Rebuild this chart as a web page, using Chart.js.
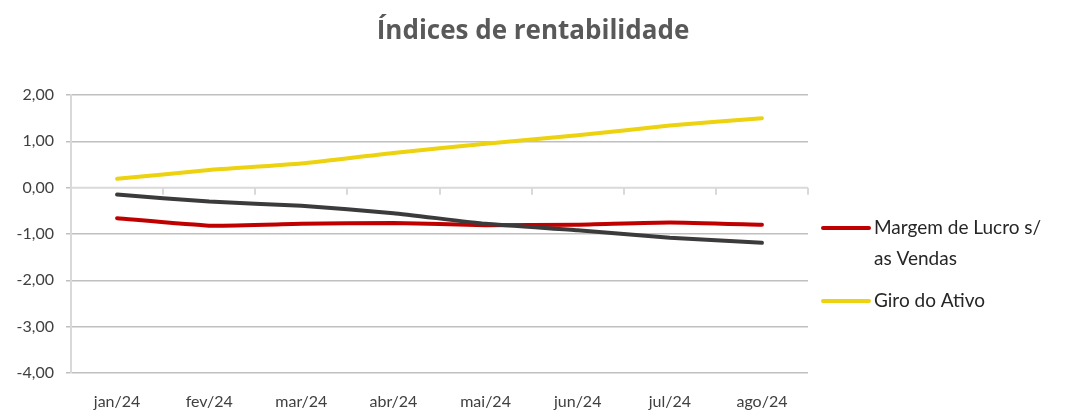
<!DOCTYPE html>
<html><head><meta charset="utf-8">
<script src="https://cdn.jsdelivr.net/npm/chart.js@4"></script>
<style>html,body{margin:0;padding:0;background:#fff}#wrap{width:1070px;height:411px;position:relative}</style>
</head><body><div id="wrap"><canvas id="c" width="1070" height="411"></canvas></div>
<script>
const title = "Índices de rentabilidade";
const categories = ["jan/24","fev/24","mar/24","abr/24","mai/24","jun/24","jul/24","ago/24"];
const margemLucro = [-0.66,-0.82,-0.78,-0.76,-0.81,-0.80,-0.75,-0.80];
const giroAtivo   = [0.19,0.38,0.52,0.75,0.95,1.13,1.34,1.50];
const terceiraSerie = [-0.15,-0.30,-0.39,-0.55,-0.78,-0.92,-1.08,-1.19];
const seriesNames = ["Margem de Lucro s/ as Vendas","Giro do Ativo","Rentabilidade do Ativo"];
const legendLines = [["Margem de Lucro s/","as Vendas"],["Giro do Ativo"]];
const yTicks = [-4,-3,-2,-1,0,1,2];

const FONT = "Lato, 'Open Sans', sans-serif";
const RED = "#c00000", YEL = "#ecd20f", DARK = "#3b3b3b";

const decor = {
  id: 'decor',
  beforeDatasetsDraw(chart){
    const {ctx, scales:{x,y}, chartArea:a} = chart;
    const y0 = y.getPixelForValue(0);
    const half = (x.getPixelForValue(1) - x.getPixelForValue(0))/2;
    ctx.save();
    ctx.strokeStyle = "#d9d9d9"; ctx.lineWidth = 2;
    ctx.beginPath(); ctx.moveTo(a.left, y0); ctx.lineTo(a.right, y0); ctx.stroke();
    ctx.lineWidth = 2;
    for (let i = 1; i <= categories.length; i++){
      const px = Math.round(x.getPixelForValue(i) - half);
      ctx.beginPath(); ctx.moveTo(px, y0); ctx.lineTo(px, y0 + 7); ctx.stroke();
    }
    ctx.restore();
  },
  afterDraw(chart){
    const {ctx, chartArea:a} = chart;
    ctx.save();
    ctx.fillStyle = "#595959";
    ctx.font = "bold 26px 'Open Sans', sans-serif";
    ctx.textAlign = "center"; ctx.textBaseline = "middle";
    ctx.fillText(title, 533, 32);
    const cols = [RED, YEL];
    const ys = [228, 301];
    ctx.font = "19px " + FONT;
    ctx.textAlign = "left";
    legendLines.forEach((lines, i) => {
      ctx.strokeStyle = cols[i]; ctx.lineWidth = 4; ctx.lineCap = "round";
      ctx.beginPath(); ctx.moveTo(a.right + 15, ys[i]); ctx.lineTo(a.right + 61, ys[i]); ctx.stroke();
      ctx.fillStyle = "#262626";
      lines.forEach((t, j) => ctx.fillText(t, a.right + 66, ys[i] + j * 31));
    });
    ctx.restore();
  }
};

new Chart(document.getElementById('c'), {
  type: 'line',
  data: {
    labels: categories,
    datasets: [
      {label: seriesNames[0], data: margemLucro, borderColor: RED, order: 1},
      {label: seriesNames[1], data: giroAtivo, borderColor: YEL, order: 2},
      {label: seriesNames[2], data: terceiraSerie, borderColor: DARK, order: 0}
    ].map(d => Object.assign(d, {borderWidth: 4, pointRadius: 0, tension: 0.15, borderCapStyle: 'round', borderJoinStyle: 'round', fill: false}))
  },
  options: {
    responsive: false, animation: false,
    layout: {padding: {left: 0, right: 262, top: 95, bottom: 0}},
    plugins: {legend: {display: false}, title: {display: false}, tooltip: {enabled: false}},
    scales: {
      x: {
        offset: true,
        grid: {display: false, offset: true},
        border: {display: false},
        ticks: {color: "#404040", font: {family: FONT, size: 16}, padding: 11, maxRotation: 0, autoSkip: false},
        afterFit(s){ s.height = 38; }
      },
      y: {
        min: -4, max: 2,
        afterBuildTicks(s){ s.ticks = yTicks.map(v => ({value: v})); },
        grid: {
          color: c => c.tick && c.tick.value === 0 ? "rgba(0,0,0,0)" : "#bfbfbf",
          lineWidth: 1.5, tickLength: 5, tickColor: "#bfbfbf"
        },
        border: {display: true, color: "#d9d9d9", width: 2},
        ticks: {color: "#404040", font: {family: FONT, size: 16}, padding: 12,
          callback: v => Number(v).toFixed(2).replace('.', ',')},
        afterFit(s){ s.width = 71; }
      }
    }
  },
  plugins: [decor]
});
</script>
</body></html>
